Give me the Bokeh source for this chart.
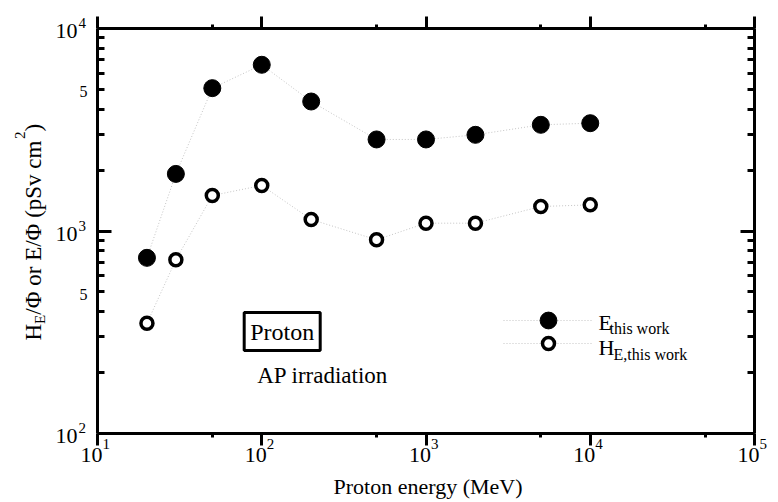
import math
from bokeh.plotting import figure
from bokeh.models import (Label, Legend, LegendItem, FixedTicker, LogAxis,
                          CustomJSTickFormatter)
from bokeh.embed import file_html
from bokeh.resources import INLINE

# ---------------- data ----------------
energy = [20, 30, 50, 100, 200, 500, 1000, 2000, 5000, 10000]
e_this_work = [737, 1914, 5075, 6619, 4360, 2832, 2832, 2985, 3345, 3407]
he_this_work = [350, 721, 1497, 1679, 1140, 905, 1093, 1093, 1321, 1346]

x_major = [10, 100, 1000, 10000, 100000]
x_minor = [50, 500, 5000, 50000]
x_exponents = ["1", "2", "3", "4", "5"]

y_major = [100, 1000, 10000]
y_minor = [200, 300, 400, 500, 600, 700, 800, 900,
           2000, 3000, 4000, 5000, 6000, 7000, 8000, 9000]
y_exponents = ["2", "3", "4"]
y_mid_ticks = [500, 5000]
y_mid_labels = ["5", "5"]

X_LIM = (10, 1e5)
Y_LIM = (100, 1e4)

# ---------------- layout ----------------
W, H = 778, 502
FL, FR, FT, FB = 97, 754, 28, 433   # pixel box of the axes
FONT = "serif"
BFIX = 0.28   # baseline correction (fraction of font size)

xdec = (FR - FL) / (math.log10(X_LIM[1]) - math.log10(X_LIM[0]))
ydec = (FB - FT) / (math.log10(Y_LIM[1]) - math.log10(Y_LIM[0]))
x_range = (10 ** (math.log10(X_LIM[0]) - FL / xdec),
           10 ** (math.log10(X_LIM[1]) + (W - FR) / xdec))
y_range = (10 ** (math.log10(Y_LIM[0]) - (H - FB) / ydec),
           10 ** (math.log10(Y_LIM[1]) + FT / ydec))


def sx(cx):
    return cx


def sy(cy):
    return H - cy


p = figure(width=W, height=H, x_axis_type="log", y_axis_type="log",
           x_range=x_range, y_range=y_range,
           output_backend="svg", toolbar_location=None, min_border=0)
p.outline_line_color = None
p.xgrid.visible = False
p.ygrid.visible = False
p.background_fill_color = "white"

p.add_layout(LogAxis(), "above")
p.add_layout(LogAxis(), "right")

blank = CustomJSTickFormatter(code="return ''")
p.xaxis[0].fixed_location = Y_LIM[0]
p.xaxis[1].fixed_location = Y_LIM[1]
p.yaxis[0].fixed_location = X_LIM[0]
p.yaxis[1].fixed_location = X_LIM[1]
for ax in p.xaxis:
    ax.ticker = FixedTicker(ticks=x_major, minor_ticks=x_minor)
    ax.bounds = X_LIM
    ax.major_tick_in = 12
    ax.minor_tick_in = 4
for ax in p.yaxis:
    ax.ticker = FixedTicker(ticks=y_major, minor_ticks=y_minor)
    ax.bounds = Y_LIM
    ax.major_tick_in = 14
    ax.minor_tick_in = 7
for ax in list(p.xaxis) + list(p.yaxis):
    ax.formatter = blank
    ax.major_tick_out = 0
    ax.minor_tick_out = 0
    ax.axis_line_width = 3
    ax.major_tick_line_width = 3
    ax.minor_tick_line_width = 3
    ax.axis_line_color = "black"
    ax.major_tick_line_color = "black"
    ax.minor_tick_line_color = "black"
    ax.major_label_text_font_size = "1px"

# ---------------- series ----------------
le = p.line(energy, e_this_work, line_color="#c4c4c4", line_width=1,
            line_dash="1 2")
lh = p.line(energy, he_this_work, line_color="#c4c4c4", line_width=1,
            line_dash="1 2")
se = p.scatter(energy, e_this_work, marker="circle", size=17,
               fill_color="black", line_color="black")
sh = p.scatter(energy, he_this_work, marker="circle", size=12,
               fill_color="white", line_color="black", line_width=3.5)

leg_common = dict(glyph_width=90, label_width=1, spacing=0, padding=0,
                  margin=0, label_standoff=0, border_line_color=None,
                  background_fill_alpha=0, label_text_font_size="8px")
leg_e = Legend(items=[LegendItem(label=" ", renderers=[le, se])],
               location=(sx(503), sy(341)), glyph_height=42, label_height=42,
               **leg_common)
leg_h = Legend(items=[LegendItem(label=" ", renderers=[lh, sh])],
               location=(sx(503), sy(358)), glyph_height=30, label_height=30,
               **leg_common)
p.add_layout(leg_e)
p.add_layout(leg_h)


def lab(text, x, y, size, align="left", x_units="screen", y_units="screen",
        x_offset=0, y_offset=0, rotated=False, **kw):
    fix = BFIX * size
    if rotated:
        x = x - fix
        kw["angle"] = math.pi / 2
    else:
        y_offset = y_offset + fix
    p.add_layout(Label(text=text, x=x, y=y, x_units=x_units, y_units=y_units,
                       x_offset=x_offset, y_offset=y_offset,
                       text_font=FONT, text_font_size=f"{size}px",
                       text_align=align, text_baseline="alphabetic",
                       text_color="black", **kw))


# x tick labels
for t, e in zip(x_major, x_exponents):
    lab("10", t, sy(461), 22, align="right", x_units="data", x_offset=5)
    lab(e, t, sy(448), 15, align="left", x_units="data", x_offset=5)

# y tick labels
for t, e in zip(y_major, y_exponents):
    lab("10", sx(77), t, 22, align="right", y_units="data", y_offset=-9)
    lab(e, sx(78), t, 15, align="left", y_units="data", y_offset=1)
for t, s in zip(y_mid_ticks, y_mid_labels):
    lab(s, sx(87), t, 16, align="right", y_units="data", y_offset=-7)

# axis titles
lab("Proton energy (MeV)", sx(427.5), sy(492), 22, align="center")

yt = 340.0
lab("H", sx(39), sy(yt), 23, rotated=True)
yt -= 0.722 * 23
lab("E", sx(44), sy(yt), 15, rotated=True)
yt -= 0.611 * 15
lab("/\u03a6 or E/\u03a6 (pSv cm", sx(39), sy(yt), 23, rotated=True)
yt -= 7.637 * 23
lab("2", sx(24), sy(yt), 15, rotated=True)
yt -= 0.5 * 15
lab(")", sx(39), sy(yt), 23, rotated=True)

# annotations
p.add_layout(Label(text="Proton", x=sx(281.7), y=sy(331), x_units="screen",
                   y_units="screen", text_font=FONT,
                   text_font_size="24px", text_align="center",
                   text_baseline="middle", border_line_color="black",
                   border_line_width=3, padding=6, text_color="black"))
lab("AP irradiation", sx(256.7), sy(381.7), 23)

# legend texts
lab("E", sx(598), sy(327.7), 22)
lab("this work", sx(609), sy(332.7), 16)
lab("H", sx(598), sy(353.3), 22)
lab("E,this work", sx(613), sy(358.3), 16)

open("out.html", "w").write(file_html(p, INLINE))
